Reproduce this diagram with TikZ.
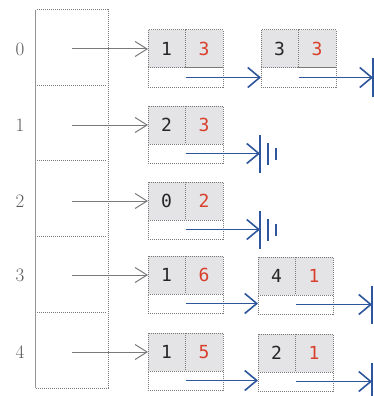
\documentclass[tikz,border=0pt]{standalone}
\usepackage{fontspec}
\newfontfamily\monofont{DejaVu Sans Mono}
\usetikzlibrary{arrows.meta}
\definecolor{cellfill}{HTML}{E4E4E6}
\definecolor{valred}{HTML}{D8402C}
\definecolor{ptrblue}{HTML}{2D569C}
\definecolor{linegray}{HTML}{7A7A7A}
\tikzset{
  cellbase/.style={draw=linegray, densely dotted, line width=1pt, inner sep=0pt, outer sep=0pt, anchor=north west, font=\monofont\fontsize{18}{18}\selectfont},
  keycell/.style={cellbase, fill=cellfill, minimum width=37pt, minimum height=38pt, text=black!85},
  valcell/.style={cellbase, fill=cellfill, minimum width=38pt, minimum height=38pt, text=valred},
  ptrcell/.style={cellbase, fill=white, minimum width=75pt, minimum height=19pt},
  ptrarrow/.style={draw=ptrblue, line width=1.7pt, -{Straight Barb[length=12pt,width=20pt,line width=1.6pt]}},
  idxarrow/.style={draw=linegray, line width=1pt, -{Straight Barb[length=12pt,width=15pt,line width=1pt]}},
  bar/.style={draw=ptrblue, line width=1.9pt},
  idxlabel/.style={font=\fontsize{19}{19}\selectfont, text=black!65, inner sep=0pt},
  tabline/.style={draw=linegray, densely dotted, line width=1pt},
}
\newcommand\listnode[5]{%
  \node[keycell] (#1k) at (#2,#3) {#4};
  \node[valcell] (#1v) at (#1k.north east) {#5};
  \node[ptrcell] (#1p) at (#1k.south west) {};
}
\newcommand\groundat[1]{%
  \draw[bar] (#1) ++(0,-19) -- ++(0,38);
  \draw[bar] (#1) ++(8,-11) -- ++(0,22);
  \draw[bar] (#1) ++(16,-6) -- ++(0,12);
}
\begin{document}
\begin{tikzpicture}[x=1pt,y=-1pt]
\clip (0,0) rectangle (374,396);
\fill[white] (0,0) rectangle (374,396);
% table
\draw[draw=linegray!80, line width=1pt] (35,10) -- (35,388);
\draw[tabline] (37,10) -- (108,10) -- (108,388) -- (35,388);
\foreach \yy in {85,160,236,312} \draw[tabline] (37,\yy) -- (107,\yy);
% list nodes
\listnode{a0}{148}{30}{1}{3}
\listnode{b0}{261}{30}{3}{3}
\listnode{a1}{148}{106}{2}{3}
\listnode{a2}{148}{182}{0}{2}
\listnode{a3}{148}{256}{1}{6}
\listnode{b3}{258}{257}{4}{1}
\listnode{a4}{148}{333}{1}{5}
\listnode{b4}{258}{334}{2}{1}
% index labels and slots
\foreach \i in {0,...,4} {
  \coordinate (t\i) at (a\i k.west -| 72,0);
  \node[idxlabel] (l\i) at (a\i k.west -| 20,0) {\i};
}
% index arrows
\foreach \i in {0,...,4} \draw[idxarrow] (t\i) -- (a\i k.west);
% next pointers
\draw[ptrarrow] (a0p.center) -- (a0p.center -| b0p.west);
\draw[ptrarrow] (a3p.center) -- (a3p.center -| b3p.west);
\draw[ptrarrow] (a4p.center) -- (a4p.center -| b4p.west);
% null pointers
\coordinate (g1) at (a1p.center -| 260,0);
\coordinate (g2) at (a2p.center -| 260,0);
\coordinate (g0) at (b0p.center -| 373,0);
\coordinate (g3) at (b3p.center -| 372,0);
\coordinate (g4) at (b4p.center -| 372,0);
\draw[ptrarrow] (a1p.center) -- (g1); \groundat{g1}
\draw[ptrarrow] (a2p.center) -- (g2); \groundat{g2}
\draw[ptrarrow] (b0p.center) -- (g0); \groundat{g0}
\draw[ptrarrow] (b3p.center) -- (g3); \groundat{g3}
\draw[ptrarrow] (b4p.center) -- (g4); \groundat{g4}
\end{tikzpicture}
\end{document}
